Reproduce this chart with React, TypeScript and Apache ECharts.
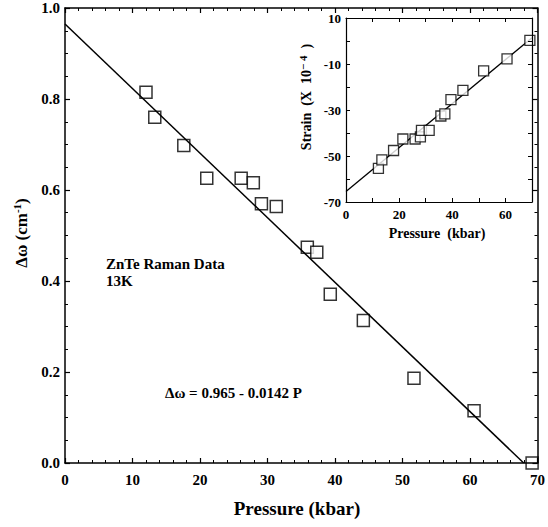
import React, { useEffect, useRef } from "react";
import * as echarts from "echarts";

const mainPressure = [12.0, 13.3, 17.6, 21.0, 26.1, 27.9, 29.1, 31.3, 35.9, 37.3, 39.3, 44.2, 51.7, 60.6, 69.2];
const mainShift = [0.815, 0.76, 0.698, 0.626, 0.626, 0.616, 0.57, 0.564, 0.474, 0.463, 0.371, 0.313, 0.186, 0.115, 0.0];
const fitIntercept = 0.965;
const fitSlope = -0.0142;

const insetPressure = [12.2, 13.5, 17.9, 21.4, 26.0, 28.0, 28.4, 31.3, 35.7, 37.2, 39.5, 44.0, 51.8, 60.6, 69.2];
const insetStrain = [-55.4, -51.7, -47.6, -42.6, -42.6, -41.7, -38.9, -38.9, -32.6, -31.7, -25.5, -21.5, -13.0, -7.8, 0.3];
const insetFit = [[0, -65.4], [70, 1.4]];

const mainYTicks = ["0.0", "0.2", "0.4", "0.6", "0.8", "1.0"];

const FONT = "'Liberation Serif', 'Times New Roman', serif";

export default function App() {
  const ref = useRef<HTMLDivElement>(null);
  useEffect(() => {
    if (!ref.current) return;
    const chart = echarts.init(ref.current, null, { renderer: "svg" });
    const mkLine = (w: number) => ({ show: true, onZero: false, lineStyle: { color: "#000", width: w } });
    const mkTick = (len: number, w: number) => ({ show: true, inside: true, length: len, lineStyle: { color: "#000", width: w } });
    const mainX = (show: boolean, pos: string) => ({
      type: "value", gridIndex: 0, position: pos, min: 0, max: 70, interval: 10, z: 4,
      axisLine: mkLine(1.5), axisTick: mkTick(5, 1.2),
      minorTick: { show: true, splitNumber: 5, length: 3, lineStyle: { color: "#000", width: 1 } },
      splitLine: { show: false },
      axisLabel: { show: show, color: "#000", fontFamily: FONT, fontWeight: "bold", fontSize: 15, margin: 9 },
    });
    const mainY = (show: boolean, pos: string) => ({
      type: "value", gridIndex: 0, position: pos, min: 0, max: 1, interval: 0.2, z: 4,
      axisLine: mkLine(1.5), axisTick: mkTick(5, 1.2),
      minorTick: { show: true, splitNumber: 4, length: 3, lineStyle: { color: "#000", width: 1 } },
      splitLine: { show: false },
      axisLabel: {
        show: show, color: "#000", fontFamily: FONT, fontWeight: "bold", fontSize: 15, margin: 5,
        formatter: (v: number) => mainYTicks[Math.round(v * 5)] ?? "",
      },
    });
    const insetX = (show: boolean, pos: string) => ({
      type: "value", gridIndex: 1, position: pos, min: 0, max: 70, interval: 10, z: 8,
      axisLine: mkLine(1.2), axisTick: mkTick(4, 1),
      splitLine: { show: false },
      axisLabel: {
        show: show, color: "#000", fontFamily: FONT, fontWeight: "bold", fontSize: 13, margin: 6,
        formatter: (v: number) => (Math.round(v) % 20 === 0 && v < 70 ? String(v) : ""),
      },
    });
    const insetY = (show: boolean, pos: string) => ({
      type: "value", gridIndex: 1, position: pos, min: -70, max: 10, interval: 10, z: 8,
      axisLine: mkLine(1.2), axisTick: mkTick(4, 1),
      splitLine: { show: false },
      axisLabel: {
        show: show, color: "#000", fontFamily: FONT, fontWeight: "bold", fontSize: 13, margin: 5,
        formatter: (v: number) => ((Math.round(v) + 70) % 20 === 0 ? String(v) : ""),
      },
    });

    const mainData = mainPressure.map((p, i) => [p, mainShift[i]]);
    const insetData = insetPressure.map((p, i) => [p, insetStrain[i]]);
    const zeroP = -fitIntercept / fitSlope;

    chart.setOption({
      animation: false,
      grid: [
        { left: 65, top: 8, right: 7, bottom: 64, show: false },
        { left: 346, top: 18, right: 16, bottom: 325, show: true, backgroundColor: "#fff", borderWidth: 0, z: 5 },
      ],
      xAxis: [mainX(true, "bottom"), mainX(false, "top"), insetX(true, "bottom"), insetX(false, "top")],
      yAxis: [mainY(true, "left"), mainY(false, "right"), insetY(true, "left"), insetY(false, "right")],
      series: [
        {
          type: "line", xAxisIndex: 0, yAxisIndex: 0, showSymbol: false, symbol: "none",
          data: [[0, fitIntercept], [zeroP, 0]],
          lineStyle: { color: "#000", width: 1.5 },
        },
        {
          type: "scatter", xAxisIndex: 0, yAxisIndex: 0, symbol: "rect", symbolSize: 12,
          data: mainData,
          itemStyle: { color: "#fff", borderColor: "#000", borderWidth: 1.5 },
        },
        {
          type: "line", xAxisIndex: 2, yAxisIndex: 2, showSymbol: false, symbol: "none", z: 6,
          data: insetFit,
          lineStyle: { color: "#000", width: 1.3 },
        },
        {
          type: "scatter", xAxisIndex: 2, yAxisIndex: 2, symbol: "rect", symbolSize: 10, z: 7,
          data: insetData,
          itemStyle: { color: "#fff", borderColor: "#000", borderWidth: 1.3 },
        },
      ],
      graphic: [
        {
          type: "text", x: 21, y: 233, rotation: Math.PI / 2, z: 10,
          style: {
            text: "Δω (cm{sup|-1})", fill: "#000", font: `bold 17px ${FONT}`,
            align: "center", verticalAlign: "middle",
            rich: { sup: { fontSize: 11, fontWeight: "bold", fontFamily: FONT, verticalAlign: "top", padding: [0, 0, 8, 0] } },
          },
        },
        {
          type: "text", x: 297, y: 508, z: 10,
          style: { text: "Pressure (kbar)", fill: "#000", font: `bold 19px ${FONT}`, align: "center", verticalAlign: "middle" },
        },
        {
          type: "text", x: 106, y: 264, z: 10,
          style: { text: "ZnTe Raman Data", fill: "#000", font: `bold 15px ${FONT}`, align: "left", verticalAlign: "middle" },
        },
        {
          type: "text", x: 106, y: 281, z: 10,
          style: { text: "13K", fill: "#000", font: `bold 15px ${FONT}`, align: "left", verticalAlign: "middle" },
        },
        {
          type: "text", x: 165, y: 393, z: 10,
          style: { text: "Δω = 0.965 - 0.0142 P", fill: "#000", font: `bold 15px ${FONT}`, align: "left", verticalAlign: "middle" },
        },
        {
          type: "text", x: 306, y: 97, rotation: Math.PI / 2, z: 10,
          style: {
            text: "Strain  (X  10{sup|− 4}  )", fill: "#000", font: `bold 14px ${FONT}`,
            align: "center", verticalAlign: "middle",
            rich: { sup: { fontSize: 11, fontWeight: "bold", fontFamily: FONT, verticalAlign: "top", padding: [0, 0, 6, 0] } },
          },
        },
        {
          type: "text", x: 437, y: 233, z: 10,
          style: { text: "Pressure  (kbar)", fill: "#000", font: `bold 14px ${FONT}`, align: "center", verticalAlign: "middle" },
        },
      ],
    });
    return () => chart.dispose();
  }, []);
  return <div ref={ref} style={{ width: 548, height: 527, position: "absolute", left: 0, top: 0 }} />;
}
